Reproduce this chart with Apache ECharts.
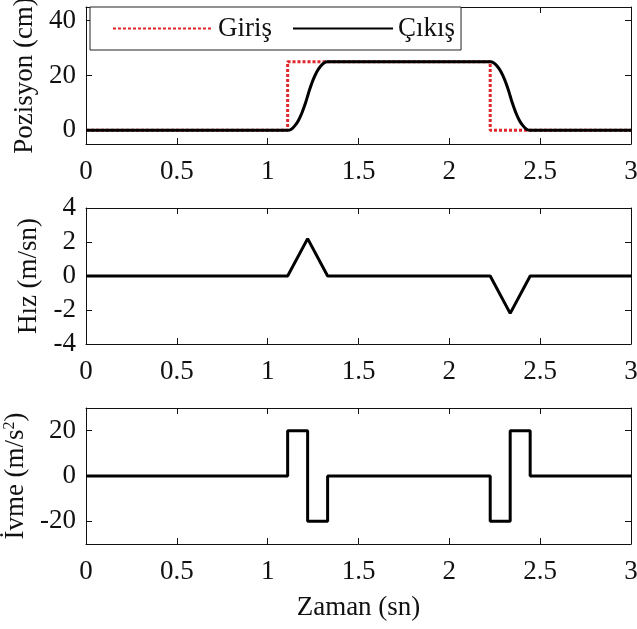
<!DOCTYPE html>
<html>
<head>
<meta charset="utf-8">
<script src="https://cdn.jsdelivr.net/npm/echarts@6/dist/echarts.min.js"></script>
<style>html,body{margin:0;padding:0;background:#fff}#c{width:637px;height:629px}</style>
</head>
<body>
<div id="c"></div>
<script>
// ---- data ----
var xTicks = [0, 0.5, 1, 1.5, 2, 2.5, 3];
var posTicks = [0, 20, 40];
var velTicks = [-4, -2, 0, 2, 4];
var accTicks = [-20, 0, 20];

var inputT = [0, 1.11, 1.11, 2.225, 2.225, 3];
var inputPos = [0, 0, 25, 25, 0, 0];

var outputT = [0, 1.11, 1.13, 1.15, 1.17, 1.19, 1.21, 1.22, 1.23, 1.25, 1.27, 1.29, 1.31, 1.33,
               2.225, 2.245, 2.265, 2.285, 2.305, 2.325, 2.335, 2.345, 2.365, 2.385, 2.405, 2.425, 2.445, 3];
var outputPos = [0, 0, 0.4, 1.7, 3.7, 6.6, 10.3, 12.5, 14.7, 18.4, 21.3, 23.3, 24.6, 25,
                 25, 24.6, 23.3, 21.3, 18.4, 14.7, 12.5, 10.3, 6.6, 3.7, 1.7, 0.4, 0, 0];

var velT = [0, 1.11, 1.22, 1.33, 2.225, 2.335, 2.445, 3];
var velV = [0, 0, 2.2, 0, 0, -2.2, 0, 0];

var accT = [0, 1.11, 1.11, 1.22, 1.22, 1.33, 1.33, 2.225, 2.225, 2.335, 2.335, 2.445, 2.445, 3];
var accA = [0, 0, 20, 20, -20, -20, 0, 0, -20, -20, 20, 20, 0, 0];

function pairs(t, v) { return t.map(function (x, i) { return [x, v[i]]; }); }

var FONT = 'Liberation Serif';
var FS = 27;
var grids = [
  { left: 86, right: 6, top: 7, height: 137, outerBoundsMode: 'none', containLabel: false },
  { left: 86, right: 6, top: 208, height: 136, outerBoundsMode: 'none', containLabel: false },
  { left: 86, right: 6, top: 408, height: 136, outerBoundsMode: 'none', containLabel: false }
];
var lineAx = { show: true, onZero: false, lineStyle: { color: '#111', width: 1 } };

var xAxes = [], yAxes = [];
var yRanges = [[-5, 45, posTicks], [-4, 4, velTicks], [-30, 30, accTicks]];
var yNames = ['Pozisyon (cm)', 'Hız (m/sn)', 'İvme (m/s{sup|2})'];
var yNameGaps = [44, 44, 40];
for (var g = 0; g < 3; g++) {
  xAxes.push({
    type: 'value', gridIndex: g, min: 0, max: 3, interval: 0.5, position: 'bottom',
    axisLine: lineAx, splitLine: { show: false },
    axisTick: { show: true, inside: true, length: 6, lineStyle: { color: '#111' } },
    axisLabel: { show: true, margin: 14, fontSize: FS, color: '#111', fontFamily: FONT,
                 customValues: xTicks },
    name: g === 2 ? 'Zaman (sn)' : '', nameLocation: 'middle', nameGap: 50,
    nameTextStyle: { fontSize: FS, color: '#111', fontFamily: FONT }
  });
  xAxes.push({
    type: 'value', gridIndex: g, min: 0, max: 3, interval: 0.5, position: 'top',
    axisLine: lineAx, splitLine: { show: false },
    axisTick: { show: true, inside: true, length: 6, lineStyle: { color: '#111' } },
    axisLabel: { show: false }
  });
  var r = yRanges[g];
  yAxes.push({
    type: 'value', gridIndex: g, min: r[0], max: r[1], position: 'left',
    axisLine: lineAx, splitLine: { show: false },
    axisTick: { show: true, inside: true, length: 6, lineStyle: { color: '#111' }, customValues: r[2] },
    axisLabel: { show: true, margin: 10, fontSize: FS, color: '#111', fontFamily: FONT, customValues: r[2] },
    name: yNames[g], nameLocation: 'middle', nameRotate: 90, nameGap: yNameGaps[g],
    nameTextStyle: { fontSize: FS, color: '#111', fontFamily: FONT,
                     rich: { sup: { fontSize: 16, fontFamily: FONT, color: '#111', verticalAlign: 'top', padding: [0, 0, 12, 0] } } }
  });
  yAxes.push({
    type: 'value', gridIndex: g, min: r[0], max: r[1], position: 'right',
    axisLine: lineAx, splitLine: { show: false },
    axisTick: { show: true, inside: true, length: 6, lineStyle: { color: '#111' }, customValues: r[2] },
    axisLabel: { show: false }
  });
}

var option = {
  animation: false,
  backgroundColor: '#fff',
  grid: grids,
  xAxis: xAxes,
  yAxis: yAxes,
  legend: {
    left: 90, top: 7, orient: 'horizontal',
    itemWidth: 100, itemHeight: 12, itemGap: 20,
    padding: [8, 6, 8, 22],
    borderColor: '#222', borderWidth: 1, backgroundColor: '#fff',
    itemStyle: { opacity: 0 },
    textStyle: { fontSize: FS, color: '#111', fontFamily: FONT },
    data: [{ name: 'Giriş' }, { name: 'Çıkış' }]
  },
  series: [
    { name: 'Giriş', type: 'line', xAxisIndex: 0, yAxisIndex: 0, data: pairs(inputT, inputPos),
      symbol: 'none', color: '#e0262a', lineStyle: { color: '#e0262a', width: 3, type: [3, 2] }, z: 3 },
    { name: 'Çıkış', type: 'line', xAxisIndex: 0, yAxisIndex: 0, data: pairs(outputT, outputPos),
      symbol: 'none', smooth: 0.3, color: '#000', lineStyle: { color: '#000', width: 3 }, z: 4 },
    { name: 'Hız', type: 'line', xAxisIndex: 2, yAxisIndex: 2, data: pairs(velT, velV),
      symbol: 'none', lineStyle: { color: '#000', width: 3 } },
    { name: 'İvme', type: 'line', xAxisIndex: 4, yAxisIndex: 4, data: pairs(accT, accA),
      symbol: 'none', lineStyle: { color: '#000', width: 3 } }
  ]
};
var chart = echarts.init(document.getElementById('c'), null, { renderer: 'canvas' });
chart.setOption(option);
</script>
</body>
</html>
